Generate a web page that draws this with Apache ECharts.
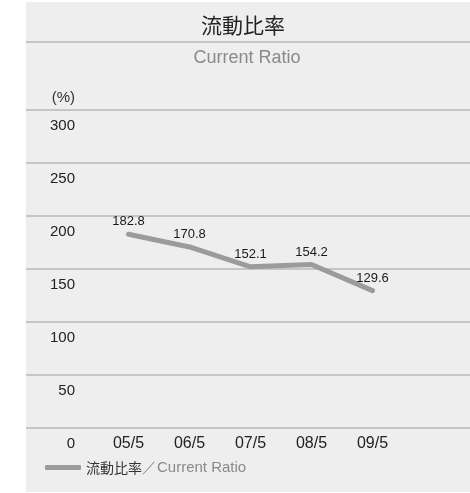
<!DOCTYPE html>
<html>
<head>
<meta charset="utf-8">
<script src="https://cdn.jsdelivr.net/npm/echarts@6/dist/echarts.min.js"></script>
<style>
html,body{margin:0;padding:0;background:#fff;}
#c{width:470px;height:493px;}
</style>
</head>
<body>
<div id="c"></div>
<script>
const categories = ['05/5', '06/5', '07/5', '08/5', '09/5'];
const ratioValues = [182.8, 170.8, 152.1, 154.2, 129.6];
const yTicks = [0, 50, 100, 150, 200, 250, 300];
const seriesName = '流動比率';
const seriesNameEn = '／Current Ratio';

const REG = '"Liberation Sans",Arial,sans-serif';
const CJK = '"Noto Sans CJK JP","Noto Sans",sans-serif';

const chart = echarts.init(document.getElementById('c'), null, {renderer: 'canvas'});
const option = {
  backgroundColor: '#ffffff',
  animation: false,
  graphic: [
    {type: 'rect', z: -10, shape: {x: 26, y: 2, width: 444, height: 490}, style: {fill: '#eeeeee'}},
    {type: 'line', z: 1, shape: {x1: 26, y1: 42, x2: 470, y2: 42}, style: {stroke: '#b9b9b9', lineWidth: 1.5}}
  ],
  title: [
    {text: '流動比率', left: 243, top: 15, padding: 0, textAlign: 'center',
     textStyle: {fontFamily: CJK, fontSize: 21, fontWeight: 'normal', color: '#222'}},
    {text: 'Current Ratio', left: 247, top: 49, padding: 0, textAlign: 'center',
     textStyle: {fontFamily: REG, fontSize: 18, fontWeight: 'normal', color: '#8a8a8a'}},
    {text: '(%)', left: 75, top: 90, padding: 0, textAlign: 'right',
     textStyle: {fontFamily: REG, fontSize: 15, fontWeight: 'normal', color: '#333'}}
  ],
  legend: {
    left: 40, top: 455, itemWidth: 36, itemHeight: 5, itemGap: 10,
    data: [{name: seriesName, icon: 'roundRect'}],
    itemStyle: {color: '#9b9b9b'},
    formatter: function (n) { return '{a|' + n + '}{b|' + seriesNameEn + '}'; },
    textStyle: {
      rich: {
        a: {fontFamily: CJK, fontSize: 14, color: '#333'},
        b: {fontFamily: REG, fontSize: 15, color: '#8a8a8a'}
      }
    }
  },
  grid: [
    {left: 26, right: 0, top: 110, bottom: 65},
    {left: 128.5, right: 97.5, top: 110, bottom: 65}
  ],
  xAxis: [
    {gridIndex: 0, type: 'category', data: categories, show: false},
    {gridIndex: 1, type: 'category', data: categories, boundaryGap: false,
     axisLine: {show: false}, axisTick: {show: false},
     axisLabel: {margin: 8, fontFamily: REG, fontSize: 16, color: '#222'}}
  ],
  yAxis: [
    {gridIndex: 0, type: 'value', min: 0, max: 300, interval: 50,
     axisLine: {show: false}, axisTick: {show: false},
     splitLine: {lineStyle: {color: '#b9b9b9', width: 1.5}},
     axisLabel: {inside: true, margin: 49, align: 'right', verticalAlign: 'top',
       padding: [8, 0, 0, 0], fontFamily: REG, fontSize: 15, color: '#222',
       formatter: function (v) { return yTicks.indexOf(v) >= 0 ? String(v) : ''; }}},
    {gridIndex: 1, type: 'value', min: 0, max: 300, interval: 50, show: false}
  ],
  series: [{
    name: seriesName,
    type: 'line',
    xAxisIndex: 1, yAxisIndex: 1,
    data: ratioValues,
    symbol: 'circle',
    symbolSize: 0,
    showSymbol: true,
    lineStyle: {color: '#9b9b9b', width: 5, cap: 'round', join: 'round'},
    itemStyle: {color: '#9b9b9b'},
    label: {show: true, position: 'top', distance: 6,
      fontFamily: REG, fontSize: 13, color: '#1a1a1a',
      formatter: function (p) { return p.value.toFixed(1); }}
  }]
};
chart.setOption(option);
</script>
</body>
</html>
